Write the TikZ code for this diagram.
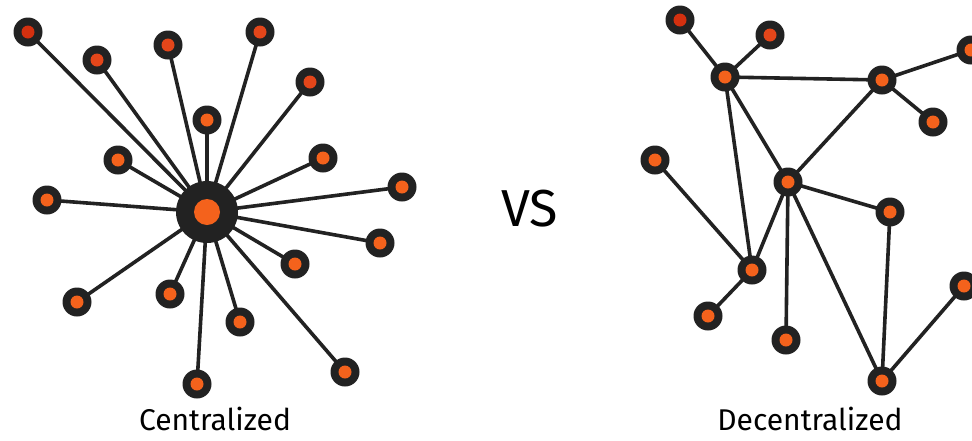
\documentclass[tikz,border=0pt]{standalone}
\usepackage{fontspec}
\setmainfont{Fira Sans}
\usetikzlibrary{backgrounds}
\definecolor{dk}{HTML}{222222}
\definecolor{org}{HTML}{F4621C}
\definecolor{rd}{HTML}{D4300F}
\definecolor{rdo}{HTML}{E4461A}
\tikzset{
  nd/.style={circle, fill=dk, minimum size=29pt, inner sep=0pt,
    path picture={\fill[#1] (path picture bounding box.center) circle (6.5pt);}},
  nd/.default=org,
  hub/.style={circle, fill=dk, minimum size=62pt, inner sep=0pt,
    path picture={\fill[org] (path picture bounding box.center) circle (13pt);}},
  edge/.style={draw=dk, line width=3.6pt},
  lbl/.style={font=\fontsize{30}{34}\selectfont, text=black, anchor=base, inner sep=0pt}
}
\begin{document}
\begin{tikzpicture}[x=1pt, y=-1pt]
\useasboundingbox (0,0) rectangle (972,440);
% centralized
\node[hub] (h) at (207,212) {};
\node[nd=rd]  (l1)  at (28,32) {};
\node[nd=rdo] (l2)  at (97,60) {};
\node[nd=rdo] (l3)  at (168,45) {};
\node[nd=rdo] (l4)  at (260,32) {};
\node[nd=rdo] (l5)  at (310,82) {};
\node[nd]     (l6)  at (207,120) {};
\node[nd]     (l7)  at (118,160) {};
\node[nd]     (l8)  at (323,158) {};
\node[nd]     (l9)  at (47,200) {};
\node[nd]     (l10) at (402,187) {};
\node[nd]     (l11) at (380,243) {};
\node[nd]     (l12) at (295,264) {};
\node[nd]     (l13) at (240,322) {};
\node[nd]     (l14) at (170,294) {};
\node[nd]     (l15) at (77,302) {};
\node[nd]     (l16) at (197,384) {};
\node[nd]     (l17) at (345,372) {};
\begin{scope}[on background layer]
\fill[white] (0,0) rectangle (972,440);
\foreach \i in {1,...,17} \draw[edge] (h.center) -- (l\i.center);
\end{scope}
\node[lbl] (tc) at (215,430) {Centralized};
% vs
\node[font=\fontsize{52}{56}\selectfont, inner sep=0pt] (vs) at (530,209) {VS};
% decentralized
\node[nd=rd]  (A) at (680,20) {};
\node[nd=rdo] (B) at (770,35) {};
\node[nd]     (C) at (725,77) {};
\node[nd]     (D) at (882,80) {};
\node[nd]     (E) at (971,50) {};
\node[nd]     (F) at (933,122) {};
\node[nd]     (G) at (655,160) {};
\node[nd]     (H) at (788,182) {};
\node[nd]     (I) at (890,212) {};
\node[nd]     (J) at (752,270) {};
\node[nd]     (K) at (708,316) {};
\node[nd]     (L) at (786,340) {};
\node[nd]     (M) at (882,381) {};
\node[nd]     (N) at (964,286) {};
\begin{scope}[on background layer]
\foreach \a/\b in {A/C, B/C, C/D, D/E, D/F, D/H, C/J, C/H, G/J, H/J, J/K, H/I, H/L, H/M, I/M, M/N}
  \draw[edge] (\a.center) -- (\b.center);
\end{scope}
\node[lbl] (td) at (810,430) {Decentralized};
\end{tikzpicture}
\end{document}
